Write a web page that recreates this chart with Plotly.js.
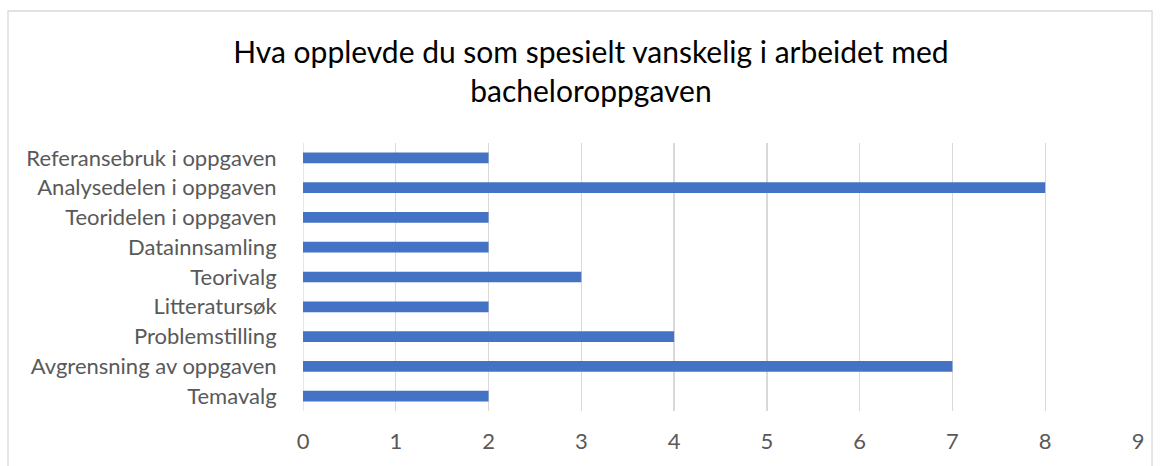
<!DOCTYPE html>
<html>
<head>
<meta charset="utf-8">
<script src="https://cdn.plot.ly/plotly-3.0.1.min.js"></script>
<style>html,body{margin:0;padding:0;background:#fff;}#chart{width:1161px;height:466px;}</style>
</head>
<body>
<div id="chart"></div>
<script>
const categories = ["Referansebruk i oppgaven","Analysedelen i oppgaven","Teoridelen i oppgaven","Datainnsamling","Teorivalg","Litteratursøk","Problemstilling","Avgrensning av oppgaven","Temavalg"];
const values = [2, 8, 2, 2, 3, 2, 4, 7, 2];
const xTicks = [0,1,2,3,4,5,6,7,8,9];
const titleText = "Hva opplevde du som spesielt vanskelig i arbeidet med<br>bacheloroppgaven";

const FONT = "Lato, 'Open Sans', sans-serif";
const trace = {
  type: "bar", orientation: "h",
  x: values, y: categories,
  marker: {color: "#4472C4"},
  hoverinfo: "x+y"
};
const layout = {
  width: 1161, height: 466,
  margin: {l: 303, r: 23, t: 143, b: 55, pad: 0},
  paper_bgcolor: "#fff", plot_bgcolor: "#fff",
  showlegend: false,
  bargap: 0.64,
  font: {family: FONT, color: "#595959", size: 22},
  title: {text: titleText, x: 0.509, xref: "container", xanchor: "center", y: 0.864, yref: "container", yanchor: "top",
          font: {family: FONT, size: 30, color: "#000"}},
  xaxis: {range: [0, 9], tickvals: xTicks, ticktext: xTicks.map(String), showgrid: true, gridcolor: "#D9D9D9", gridwidth: 1.3,
          zeroline: false, showline: false, ticks: "outside", ticklen: 11, tickcolor: "rgba(0,0,0,0)",
          tickfont: {size: 22, color: "#595959"}, fixedrange: true},
  yaxis: {type: "category", autorange: "reversed", showgrid: false, zeroline: false, showline: false,
          ticks: "outside", ticklen: 21, tickcolor: "rgba(0,0,0,0)", tickfont: {size: 22, color: "#595959"}, fixedrange: true},
  shapes: [
    {type: "line", xref: "x", yref: "paper", x0: 0, x1: 0, y0: 0, y1: 1, line: {color: "#D9D9D9", width: 1.3}, layer: "below"},
    {type: "rect", xref: "paper", yref: "paper", x0: -0.3533, x1: 1.0168, y0: -0.25, y1: 1.4925, line: {color: "#D9D9D9", width: 1.3}}
  ]
};
Plotly.newPlot("chart", [trace], layout, {displayModeBar: false, staticPlot: true});
</script>
</body>
</html>
